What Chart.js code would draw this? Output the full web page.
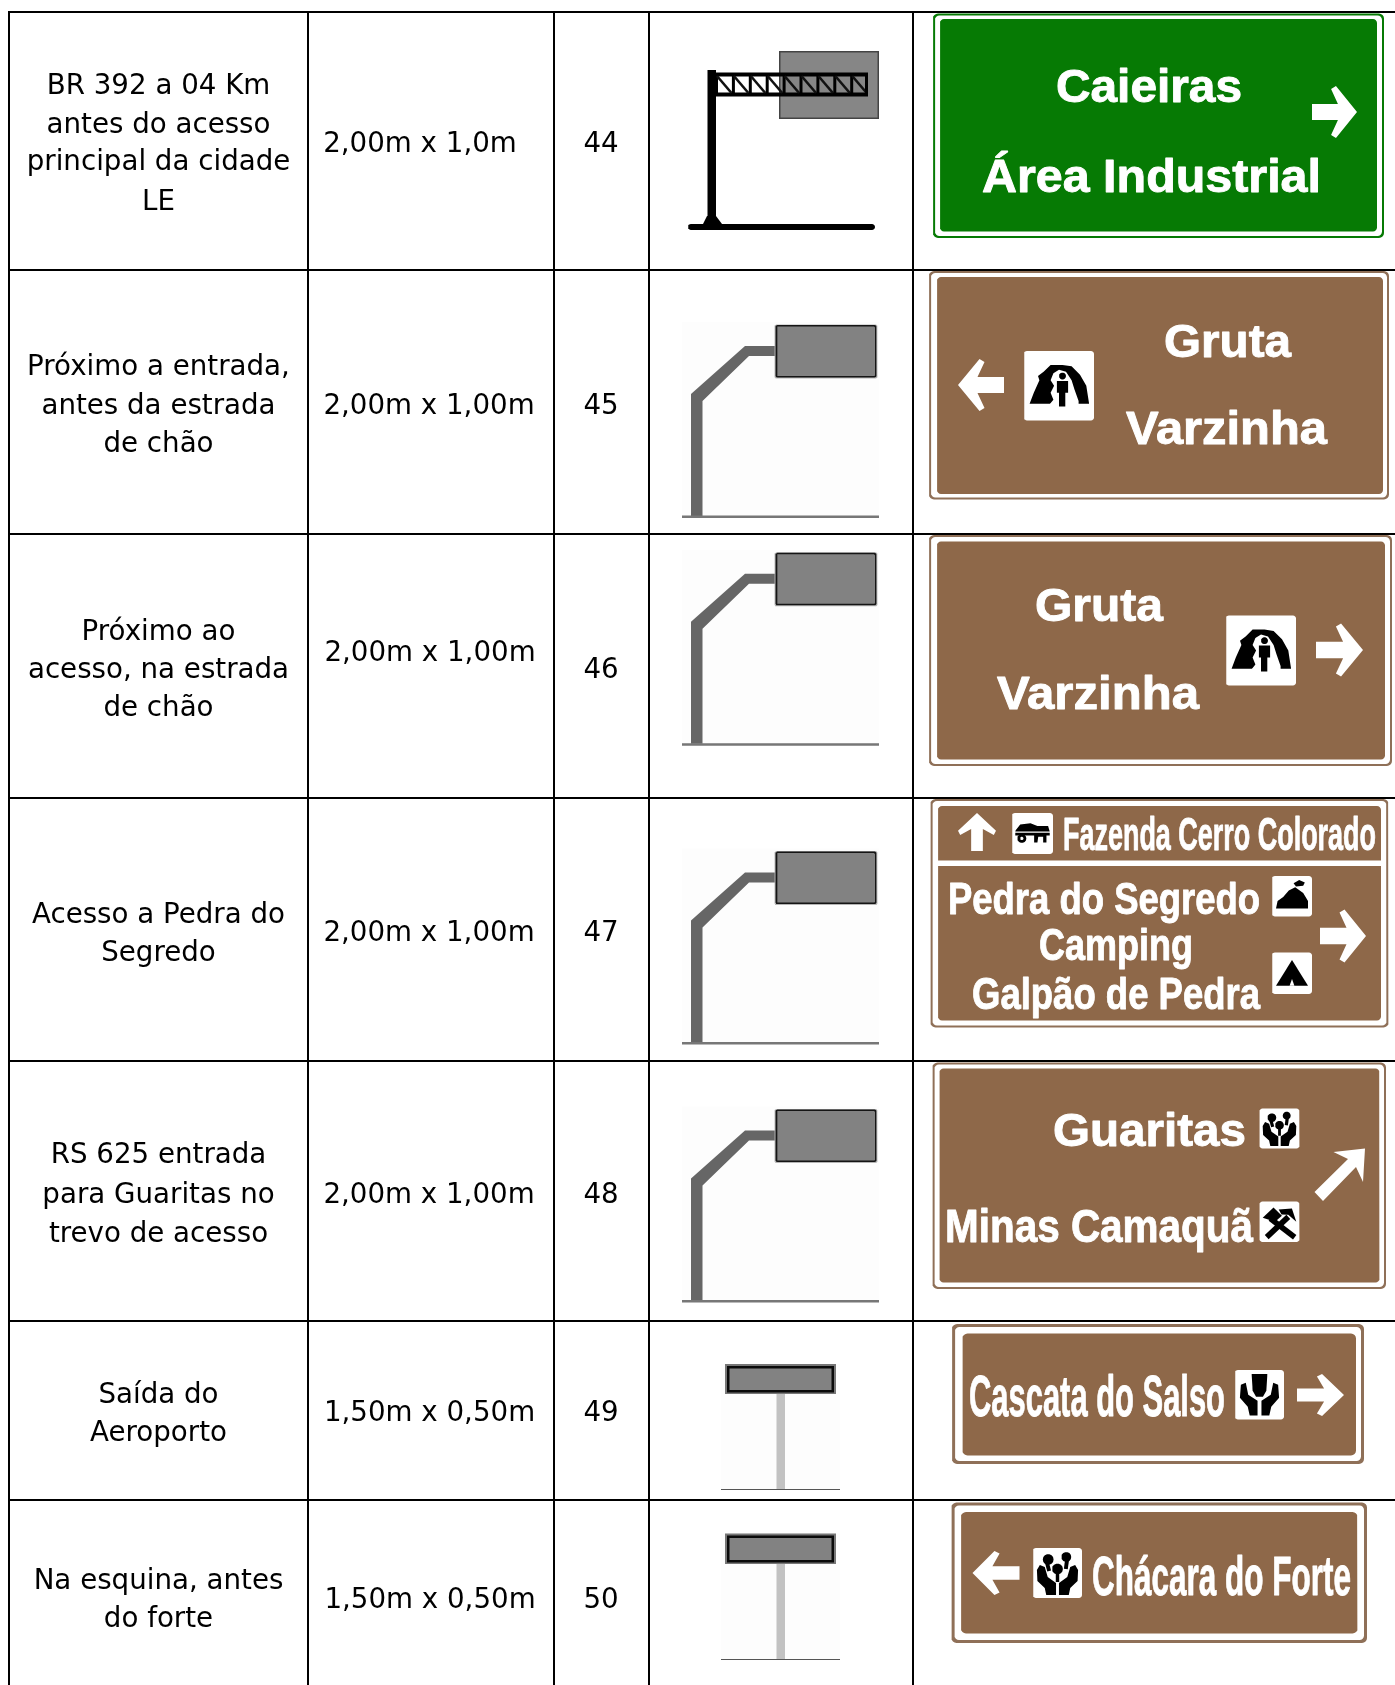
<!DOCTYPE html>
<html lang="pt">
<head>
<meta charset="utf-8">
<title>Placas</title>
<script src="https://cdn.jsdelivr.net/npm/chart.js@4"></script>
<style>
  html, body { margin: 0; padding: 0; background: #fff; }
  canvas { display: block; }
</style>
</head>
<body>
<canvas id="tabela" width="1395" height="1685"></canvas>
<script>
// DADOS DA TABELA
const locais = [
  ["BR 392 a 04 Km", "antes do acesso", "principal da cidade", "LE"],
  ["Próximo a entrada,", "antes da estrada", "de chão"],
  ["Próximo ao", "acesso, na estrada", "de chão"],
  ["Acesso a Pedra do", "Segredo"],
  ["RS 625 entrada", "para Guaritas no", "trevo de acesso"],
  ["Saída do", "Aeroporto"],
  ["Na esquina, antes", "do forte"]
];
const medidas = ["2,00m x 1,0m", "2,00m x 1,00m", "2,00m x 1,00m", "2,00m x 1,00m", "2,00m x 1,00m", "1,50m x 0,50m", "1,50m x 0,50m"];
const numeros = ["44", "45", "46", "47", "48", "49", "50"];
const textosPlacas = [
  "Caieiras", "Área Industrial",
  "Gruta", "Varzinha",
  "Gruta", "Varzinha",
  "Fazenda Cerro Colorado", "Pedra do Segredo", "Camping", "Galpão de Pedra",
  "Guaritas", "Minas Camaquã",
  "Cascata do Salso",
  "Chácara do Forte"
];

// POSIÇÕES
const colunas = [9, 308, 554, 649, 913];
const linhas = [12, 270, 534, 798, 1061, 1321, 1500];
const baseLocais = [
  [94, 132.5, 170, 210],
  [374.5, 413.5, 452],
  [640, 677.5, 716],
  [922.5, 961],
  [1163, 1203, 1241.5],
  [1403, 1440.5],
  [1589, 1626.5]
];
const baseMedidas = [151.5, 413.5, 661, 941, 1203, 1421, 1608];
const baseNumeros = [151.5, 413.5, 677.5, 941, 1203, 1421, 1608];
const centroMedidas = [420, 429, 430, 429, 429, 429.5, 430];
// x inicial, base, corpo, largura
const layoutPlacas = [
  [1056, 101.5, 46, 186], [982, 192, 46, 339],
  [1164, 356.5, 46, 127], [1126, 443.5, 46, 201],
  [1035, 620.5, 46, 128], [997, 708.5, 46, 202],
  [1063, 850, 46, 313], [948, 914, 45, 312], [1039, 960, 45, 154], [972, 1009, 45, 288],
  [1053, 1146, 46, 193], [945, 1241.5, 46, 308],
  [969, 1416, 58, 256],
  [1092, 1595, 56, 259]
];

const W = 1395, H = 1685;
const BRANCO = "#ffffff", PRETO = "#000000", MARROM = "#8e6849", BORDA = "#8f7058", VERDE = "#067a04";
const CINZA = "#828282", CINZA_POSTE = "#666666", CINZA_CLARO = "#c2c2c2";

const datasets = [];

function forma(pts, cor) {
  datasets.push({
    data: pts.map(p => ({ x: p[0], y: p[1] })),
    fill: "shape",
    backgroundColor: cor,
    borderColor: cor,
    borderWidth: 0,
    pointRadius: 0,
    tension: 0,
    order: -datasets.length
  });
}

function linha(pts, cor, largura) {
  datasets.push({
    data: pts.map(p => ({ x: p[0], y: p[1] })),
    fill: false,
    borderColor: cor,
    borderWidth: largura,
    borderCapStyle: "butt",
    pointRadius: 0,
    tension: 0,
    order: -datasets.length
  });
}

function retangulo(x0, y0, x1, y1, r, cor) {
  const pts = [];
  const cantos = [[x1 - r, y0 + r, -90], [x1 - r, y1 - r, 0], [x0 + r, y1 - r, 90], [x0 + r, y0 + r, 180]];
  cantos.forEach(c => {
    for (let i = 0; i <= 4; i++) {
      const a = (c[2] + i * 22.5) * Math.PI / 180;
      pts.push([c[0] + r * Math.cos(a), c[1] + r * Math.sin(a)]);
    }
  });
  forma(pts, cor);
}

function circulo(cx, cy, r) {
  const pts = [];
  for (let i = 0; i < 14; i++) {
    const a = i / 14 * 2 * Math.PI;
    pts.push([cx + r * Math.cos(a), cy + r * Math.sin(a)]);
  }
  return pts;
}

function barra(x0, y0, x1, y1, e) {
  const d = Math.hypot(x1 - x0, y1 - y0);
  const nx = -(y1 - y0) / d * e / 2, ny = (x1 - x0) / d * e / 2;
  return [[x0 + nx, y0 + ny], [x1 + nx, y1 + ny], [x1 - nx, y1 - ny], [x0 - nx, y0 - ny]];
}

// POSTES
function posteBraco(dy) {
  retangulo(682, 322 + dy, 879, 516 + dy, 0, "#fdfdfd");
  forma([[691, 516], [691, 394], [745, 346], [775, 346], [775, 356], [749, 356], [702.5, 401], [702.5, 516]].map(p => [p[0], p[1] + dy]), CINZA_POSTE);
  retangulo(682, 515.5 + dy, 879, 518 + dy, 0, "#777777");
  retangulo(774.5, 324.5 + dy, 877.5, 378.5 + dy, 2, "#b5b5b5");
  retangulo(775.5, 325 + dy, 876.5, 377.5 + dy, 2, "#151515");
  retangulo(777, 326.5 + dy, 875, 376 + dy, 1, CINZA);
}

function posteBaixo(y0, y1, yChao) {
  retangulo(721, y0, 840, yChao, 0, "#fdfdfd");
  retangulo(776.5, y1, 785, yChao, 0, CINZA_CLARO);
  linha([[721, yChao + 0.5], [840, yChao + 0.5]], "#555555", 1);
  retangulo(725, y0, 836, y1, 0, "#777777");
  retangulo(727, y0 + 2, 834, y1 - 1.5, 0, "#0a0a0a");
  retangulo(729.5, y0 + 4.5, 831.5, y1 - 4, 0, CINZA);
}

function posteTrelica() {
  retangulo(779, 51, 879, 119, 0, "#444444");
  retangulo(780.5, 52.5, 877.5, 117.5, 0, "#868686");
  retangulo(707.5, 70, 716, 224, 0, PRETO);
  forma([[703, 224], [707, 216], [716, 216], [722, 224]], PRETO);
  retangulo(688, 224, 875, 230, 3, PRETO);
  // treliça: nove vãos
  retangulo(716, 72.5, 868, 76.5, 0, PRETO);
  retangulo(716, 92.5, 868, 96.5, 0, PRETO);
  for (let i = 0; i < 9; i++) {
    const x = 716 + i * 16.9;
    linha([[x + 0.5, 73], [x + 0.5, 96]], PRETO, 3);
    linha([[x + 1, 76], [x + 15.5, 93]], "#111111", 2.6);
  }
  linha([[866.5, 73], [866.5, 96]], PRETO, 3);
}

// PLACAS
function placa(ext, int, cor, borda, esp, rInt) {
  retangulo(ext[0], ext[1], ext[2], ext[3], 5, borda);
  retangulo(ext[0] + esp, ext[1] + esp, ext[2] - esp, ext[3] - esp, 4.5, BRANCO);
  retangulo(int[0], int[1], int[2], int[3], rInt || 4, cor);
}

function seta(cx, cy, compr, alt, graus) {
  const base = [[-23, -8], [3.5, -8], [-3.5, -23], [1.5, -26], [23, 0], [1.5, 26], [-3.5, 23], [3.5, 8], [-23, 8]];
  const a = graus * Math.PI / 180;
  forma(base.map(p => {
    const x = p[0] * compr / 46, y = p[1] * alt / 52;
    return [cx + x * Math.cos(a) - y * Math.sin(a), cy + x * Math.sin(a) + y * Math.cos(a)];
  }), BRANCO);
}

function icone(x0, y0, x1, y1, pecas) {
  retangulo(x0, y0, x1, y1, 3, BRANCO);
  pecas.forEach(p => {
    forma(p[1].map(q => [x0 + q[0] * (x1 - x0), y0 + q[1] * (y1 - y0)]), p[0]);
  });
}

const gruta = [
  [PRETO, [[.08, .76], [.14, .6], [.22, .42], [.2, .36], [.28, .3], [.38, .2], [.55, .2], [.68, .22], [.8, .34], [.89, .5], [.93, .76]]],
  [BRANCO, [[.34, .8], [.42, .7], [.38, .6], [.43, .5], [.38, .42], [.42, .32], [.5, .27], [.6, .3], [.68, .42], [.72, .55], [.78, .72], [.78, .8]]],
  [PRETO, circulo(.55, .36, .05)],
  [PRETO, [[.47, .43], [.63, .43], [.63, .6], [.59, .6], [.59, .8], [.5, .8], [.5, .6], [.47, .6]]]
];
const carro = [
  [PRETO, [[.09, .42], [.2, .28], [.45, .25], [.62, .32], [.88, .32], [.92, .45], [.08, .45]]],
  [PRETO, [[.08, .48], [.92, .48], [.92, .55], [.84, .55], [.84, .72], [.78, .72], [.76, .58], [.64, .58], [.62, .72], [.56, .72], [.54, .55], [.08, .55]]],
  [PRETO, circulo(.24, .62, .11)],
  [BRANCO, circulo(.24, .62, .04)]
];
const pedra = [
  [PRETO, [[.1, .8], [.14, .62], [.28, .52], [.42, .36], [.58, .28], [.78, .42], [.9, .62], [.9, .8]]],
  [PRETO, [[.54, .18], [.68, .1], [.82, .16], [.78, .24], [.6, .26]]]
];
const barraca = [
  [PRETO, [[.1, .8], [.5, .18], [.9, .8]]],
  [BRANCO, [[.44, .8], [.5, .64], [.56, .8]]]
];
const maos = [
  [PRETO, [[.08, .44], [.14, .34], [.24, .38], [.3, .58], [.47, .7], [.47, .94], [.27, .94], [.24, .8], [.09, .66]]],
  [PRETO, [[.92, .44], [.86, .34], [.76, .38], [.7, .58], [.53, .7], [.53, .94], [.73, .94], [.76, .8], [.91, .66]]],
  [PRETO, circulo(.31, .23, .11)],
  [PRETO, circulo(.68, .18, .1)],
  [PRETO, circulo(.5, .42, .11)],
  [PRETO, barra(.5, .42, .5, .68, .07)],
  [PRETO, barra(.27, .24, .33, .46, .08)],
  [PRETO, barra(.7, .2, .67, .42, .08)]
];
const picareta = [
  [PRETO, barra(.27, .42, .88, .88, .14)],
  [PRETO, barra(.72, .38, .18, .88, .14)],
  [PRETO, [[.08, .4], [.35, .15], [.56, .35], [.39, .5]]],
  [PRETO, [[.48, .2], [.81, .17], [.92, .5], [.72, .33], [.55, .32]]]
];
const jarro = [
  [PRETO, [[.34, .08], [.66, .08], [.64, .42], [.57, .54], [.43, .54], [.36, .42]]],
  [PRETO, [[.12, .3], [.22, .26], [.27, .5], [.46, .62], [.46, .92], [.3, .92], [.26, .74], [.1, .56]]],
  [PRETO, [[.88, .3], [.78, .26], [.73, .5], [.54, .62], [.54, .92], [.7, .92], [.74, .74], [.9, .56]]]
];

// GRADE DA TABELA
linhas.forEach(y => linha([[colunas[0] - 1, y], [W, y]], PRETO, 2));
colunas.forEach(x => linha([[x, linhas[0] - 1], [x, H]], PRETO, 2));

posteTrelica();
posteBraco(0);
posteBraco(227.8);
posteBraco(526.6);
posteBraco(784.5);
posteBaixo(1364, 1394, 1489);
posteBaixo(1533.5, 1564, 1659);

placa([933, 13.5, 1384, 238], [940, 19, 1377, 231.5], VERDE, VERDE, 2);
seta(1334.5, 112, 45, 52, 0);

placa([929, 271, 1389, 499.5], [937, 277, 1383, 494], MARROM, BORDA, 2);
seta(981, 385, 46, 52, 180);
icone(1024, 351, 1094, 420.5, gruta);

placa([929, 535, 1392, 766], [937, 541.5, 1385, 759.5], MARROM, BORDA, 2);
icone(1226, 615.5, 1296, 685.5, gruta);
seta(1339.5, 650, 47, 53, 0);

placa([930.5, 799, 1388.5, 1027.5], [938, 806, 1381, 1020.5], MARROM, BORDA, 2);
retangulo(938, 860.5, 1381, 866, 0, BRANCO);
seta(977, 832, 38, 38, -90);
icone(1012, 813, 1053, 854, carro);
icone(1272, 876, 1312, 916.5, pedra);
icone(1272, 952.5, 1312, 994, barraca);
seta(1343, 936, 46, 53, 0);

placa([932.5, 1062.5, 1386, 1289], [939.5, 1068.5, 1379.5, 1282.5], MARROM, BORDA, 2);
icone(1259.5, 1108.5, 1299.5, 1148.5, maos);
icone(1259.5, 1201.5, 1299.5, 1242, picareta);
forma([[1314.5, 1192], [1348, 1159], [1333.5, 1152], [1365, 1148.5], [1363, 1182], [1356, 1167], [1323, 1201]], BRANCO);

placa([952, 1324, 1364, 1464], [962.5, 1333.5, 1356, 1455.5], MARROM, BORDA, 3, 5);
icone(1235, 1370, 1284, 1419.5, jarro);
seta(1320.5, 1395, 47, 42, 0);

placa([951.5, 1502.5, 1367, 1643], [961, 1512, 1357.5, 1633.5], MARROM, BORDA, 3, 5);
seta(996, 1573, 47, 44, 180);
icone(1033, 1548, 1082, 1598, maos);

// TEXTOS
const pluginTextos = {
  id: "textos",
  afterDatasetsDraw(chart) {
    const ctx = chart.ctx;
    const sx = chart.scales.x, sy = chart.scales.y;
    ctx.save();
    ctx.textBaseline = "alphabetic";

    ctx.fillStyle = PRETO;
    ctx.font = '27.7px "DejaVu Sans", sans-serif';
    ctx.textAlign = "center";
    const colLocal = (colunas[0] + colunas[1]) / 2;
    const colNumero = (colunas[2] + colunas[3]) / 2 - 0.5;
    locais.forEach((linhasLocal, i) => {
      linhasLocal.forEach((t, j) => {
        ctx.fillText(t, sx.getPixelForValue(colLocal), sy.getPixelForValue(baseLocais[i][j]));
      });
    });
    medidas.forEach((t, i) => {
      ctx.fillText(t, sx.getPixelForValue(centroMedidas[i]), sy.getPixelForValue(baseMedidas[i]));
    });
    numeros.forEach((t, i) => {
      ctx.fillText(t, sx.getPixelForValue(colNumero), sy.getPixelForValue(baseNumeros[i]));
    });

    ctx.fillStyle = BRANCO;
    ctx.strokeStyle = BRANCO;
    ctx.lineWidth = 0.9;
    ctx.lineJoin = "round";
    ctx.textAlign = "left";
    textosPlacas.forEach((t, i) => {
      const l = layoutPlacas[i];
      ctx.save();
      ctx.font = "bold " + l[2] + 'px "Liberation Sans", Arial, sans-serif';
      const largura = ctx.measureText(t).width;
      ctx.translate(sx.getPixelForValue(l[0]), sy.getPixelForValue(l[1]));
      ctx.scale(l[3] / largura, 1);
      ctx.fillText(t, 0, 0);
      ctx.strokeText(t, 0, 0);
      ctx.restore();
    });
    ctx.restore();
  }
};

new Chart(document.getElementById("tabela"), {
  type: "line",
  data: { datasets: datasets },
  plugins: [pluginTextos],
  options: {
    responsive: false,
    animation: false,
    devicePixelRatio: 1,
    layout: { padding: 0 },
    events: [],
    plugins: {
      legend: { display: false },
      tooltip: { enabled: false }
    },
    scales: {
      x: { type: "linear", display: false, min: 0, max: W },
      y: { type: "linear", display: false, min: 0, max: H, reverse: true }
    }
  }
});
</script>
</body>
</html>
